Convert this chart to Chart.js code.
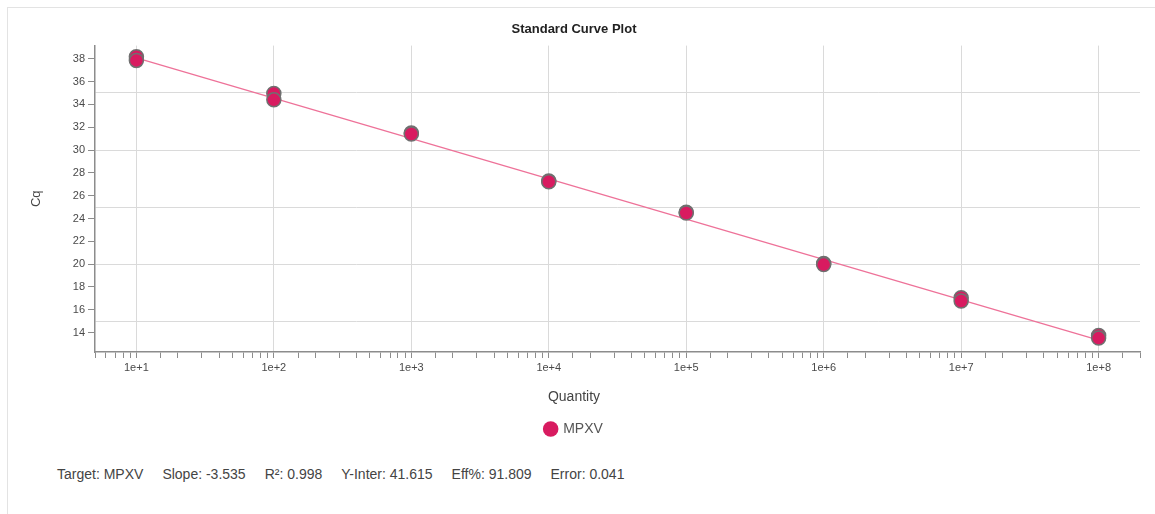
<!DOCTYPE html>
<html>
<head>
<meta charset="utf-8">
<title>Standard Curve Plot</title>
<script src="https://cdn.jsdelivr.net/npm/chart.js@4.4.1/dist/chart.umd.min.js"></script>
<style>
    html, body { margin: 0; padding: 0; background: #fff; overflow: hidden; }
    body { width: 1155px; height: 514px; position: relative; font-family: "Liberation Sans", Arial, sans-serif; }
    #panel { position: absolute; left: 7px; top: 7px; width: 1175px; height: 540px; border: 1px solid #e3e3e3; }
    #plot { position: absolute; left: 0; top: 0; }
    #stats { position: absolute; left: 49px; top: 458px; display: flex; gap: 19px; font-size: 14px; color: #444; white-space: nowrap; }
</style>
</head>
<body>
<div id="panel">
    <canvas id="plot" width="1156" height="442"></canvas>
    <div id="stats"></div>
</div>
<script>
// standards: quantity (copies) and measured Cq, two replicates per dilution
var quantities = [1e1, 1e1, 1e2, 1e2, 1e3, 1e3, 1e4, 1e4, 1e5, 1e5, 1e6, 1e6, 1e7, 1e7, 1e8, 1e8];
var cqValues = [38.18, 37.85, 34.95, 34.40, 31.50, 31.40, 27.28, 27.22, 24.55, 24.48, 20.05, 19.96, 17.06, 16.77, 13.74, 13.52];

var targetName = "MPXV";
var slope = -3.535;
var rSquared = 0.998;
var yIntercept = 41.615;
var efficiency = 91.809;
var fitError = 0.041;

// fit line runs across the standards range
var fitRange = [1e1, 1e8];

var pointFill = "#d81b60";
var pointEdge = "#707070";
var fitColor = "#ee7299";
var gridColor = "#dadada";
var axisColor = "#8c8c8c";

function isDecade(v) {
    var e = Math.log10(v);
    return Math.abs(e - Math.round(e)) < 1e-9;
}

var standards = quantities.map(function(q, i) {
    return { x: q, y: cqValues[i] };
});

// Cq = intercept + slope * log10(quantity)
var fitLine = fitRange.map(function(q) {
    return { x: q, y: yIntercept + slope * Math.log10(q) };
});

var ctx = document.getElementById("plot").getContext("2d");
Chart.defaults.font.family = '"Liberation Sans", Arial, sans-serif';
Chart.defaults.color = "#444";

var chart = new Chart(ctx, {
    type: "scatter",
    data: {
        datasets: [{
                label: targetName,
                data: standards,
                backgroundColor: pointFill,
                borderColor: pointEdge,
                borderWidth: 1.5,
                pointRadius: 7,
                pointHoverRadius: 7,
                order: 0
            },
            {
                label: "fit",
                type: "line",
                data: fitLine,
                borderColor: fitColor,
                borderWidth: 1.3,
                pointRadius: 0,
                fill: false,
                order: 1
            }
        ]
    },
    options: {
        responsive: false,
        animation: false,
        devicePixelRatio: 1,
        layout: { padding: { left: 0, right: 24, top: 0, bottom: 4 } },
        scales: {
            x: {
                type: "logarithmic",
                min: 5,
                max: 2e8,
                border: { color: axisColor, width: 1.5 },
                grid: {
                    color: function(c) {
                        if (!c.tick) return "transparent";
                        return (isDecade(c.tick.value) && c.tick.value > 5 && c.tick.value < 2e8) ? gridColor : "transparent";
                    },
                    tickColor: axisColor,
                    tickLength: 6,
                    lineWidth: 1
                },
                ticks: {
                    autoSkip: false,
                    maxRotation: 0,
                    padding: 3,
                    font: { size: 11 },
                    color: "#4a4a4a",
                    callback: function(v) {
                        if (!isDecade(v)) return "";
                        return "1e+" + Math.round(Math.log10(v));
                    }
                }
            },
            y: {
                min: 12.3,
                max: 39.15,
                border: { color: axisColor, width: 1.5 },
                grid: {
                    color: function(c) {
                        if (!c.tick) return "transparent";
                        var v = c.tick.value;
                        return (Number.isInteger(v) && v % 5 === 0) ? gridColor : "transparent";
                    },
                    tickColor: function(c) {
                        if (!c.tick) return "transparent";
                        var v = c.tick.value;
                        return (Number.isInteger(v) && v % 2 === 0) ? axisColor : "transparent";
                    },
                    tickLength: 7,
                    lineWidth: 1
                },
                ticks: {
                    stepSize: 1,
                    autoSkip: false,
                    padding: 3,
                    font: { size: 11 },
                    color: "#4a4a4a",
                    callback: function(v) {
                        return (Number.isInteger(v) && v % 2 === 0) ? v : "";
                    }
                },
                title: {
                    display: true,
                    text: "Cq",
                    font: { size: 13 },
                    color: "#444",
                    padding: { top: 21, bottom: 0 }
                },
                afterFit: function(scale) {
                    scale.width = 87;
                }
            }
        },
        plugins: {
            title: {
                display: true,
                text: "Standard Curve Plot",
                font: { size: 13, weight: "bold" },
                color: "#222",
                padding: { top: 14, bottom: 8 }
            },
            subtitle: {
                display: true,
                position: "bottom",
                text: "Quantity",
                font: { size: 14 },
                color: "#444",
                padding: { top: 12, bottom: 6 }
            },
            legend: {
                position: "bottom",
                weight: 1600,
                labels: {
                    usePointStyle: true,
                    boxWidth: 11,
                    boxHeight: 11,
                    padding: 10,
                    font: { size: 14 },
                    color: "#555",
                    filter: function(item) { return item.datasetIndex === 0; },
                    generateLabels: function(ch) {
                        var items = Chart.defaults.plugins.legend.labels.generateLabels(ch);
                        items.forEach(function(it) {
                            it.fillStyle = pointFill;
                            it.strokeStyle = pointFill;
                            it.lineWidth = 0;
                        });
                        return items;
                    }
                }
            },
            tooltip: { enabled: false }
        }
    }
});

// summary line under the chart
var stats = [
    "Target: " + targetName,
    "Slope: " + slope.toFixed(3),
    "R\u00b2: " + rSquared.toFixed(3),
    "Y-Inter: " + yIntercept.toFixed(3),
    "Eff%: " + efficiency.toFixed(3),
    "Error: " + fitError.toFixed(3)
];
var statsBox = document.getElementById("stats");
stats.forEach(function(s) {
    var span = document.createElement("span");
    span.textContent = s;
    statsBox.appendChild(span);
});
</script>
</body>
</html>
